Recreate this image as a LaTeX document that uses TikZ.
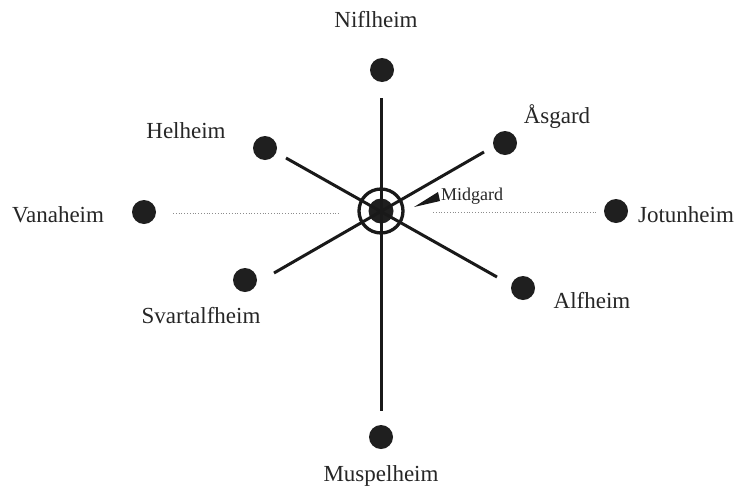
\documentclass[tikz,border=0pt]{standalone}
\usepackage{fontspec}
\setmainfont{Liberation Serif}
\begin{document}
\begin{tikzpicture}[x=1pt,y=-1pt,
  world/.style={circle,fill=black!88,minimum size=24pt,inner sep=0pt},
  lbl/.style={font=\fontsize{23}{26}\selectfont,text=black!85,inner sep=0pt,anchor=base},
  spoke/.style={line width=3pt,black!90},
  guide/.style={line width=0.8pt,black!45,dotted}]
\useasboundingbox (0,0) rectangle (736,493);
\fill[white] (0,0) rectangle (736,493);
% centre
\node[circle,fill=black!88,minimum size=25pt,inner sep=0pt] (mid) at (381,211) {};
\node[circle,draw=black!90,line width=3.3pt,minimum size=44pt,inner sep=0pt] (ring) at (381,211) {};
% worlds
\node[world] (nif) at (382,70) {};
\node[world] (asg) at (505,143) {};
\node[world] (hel) at (265,148) {};
\node[world] (van) at (144,212) {};
\node[world] (jot) at (616,211) {};
\node[world] (sva) at (245,280) {};
\node[world] (alf) at (523,288) {};
\node[world] (mus) at (381,437) {};
% spoke ends
\coordinate (vt) at (381,98);
\coordinate (vb) at (381,411);
\coordinate (ul) at (286,158);
\coordinate (lr) at (497,277);
\coordinate (ur) at (484,152);
\coordinate (ll) at (274,273);
\coordinate (gl1) at (173,213);
\coordinate (gl2) at (340,213);
\coordinate (gr1) at (433,212);
\coordinate (gr2) at (598,212);
\draw[spoke] (vt) -- (vb);
\draw[spoke] (ul) -- (lr);
\draw[spoke] (ur) -- (ll);
\draw[guide] (gl1) -- (gl2);
\draw[guide] (gr1) -- (gr2);
% Midgard pointer
\coordinate (tip) at (414,207);
\coordinate (b1) at (438,192);
\coordinate (b2) at (440,201);
\fill[black!90] (tip) -- (b1) -- (b2) -- cycle;
\node[font=\fontsize{18}{21}\selectfont,text=black!85,inner sep=0pt,anchor=base west] (midl) at (441,200) {Midgard};
% labels
\node[lbl] (nifl) at (376,27) {Niflheim};
\node[lbl] (asgl) at (557,123) {Åsgard};
\node[lbl] (hell) at (186,138) {Helheim};
\node[lbl] (vanl) at (58,222) {Vanaheim};
\node[lbl] (jotl) at (686,222) {Jotunheim};
\node[lbl] (sval) at (201,323) {Svartalfheim};
\node[lbl] (alfl) at (592,308) {Alfheim};
\node[lbl] (musl) at (381,481) {Muspelheim};
\end{tikzpicture}
\end{document}
